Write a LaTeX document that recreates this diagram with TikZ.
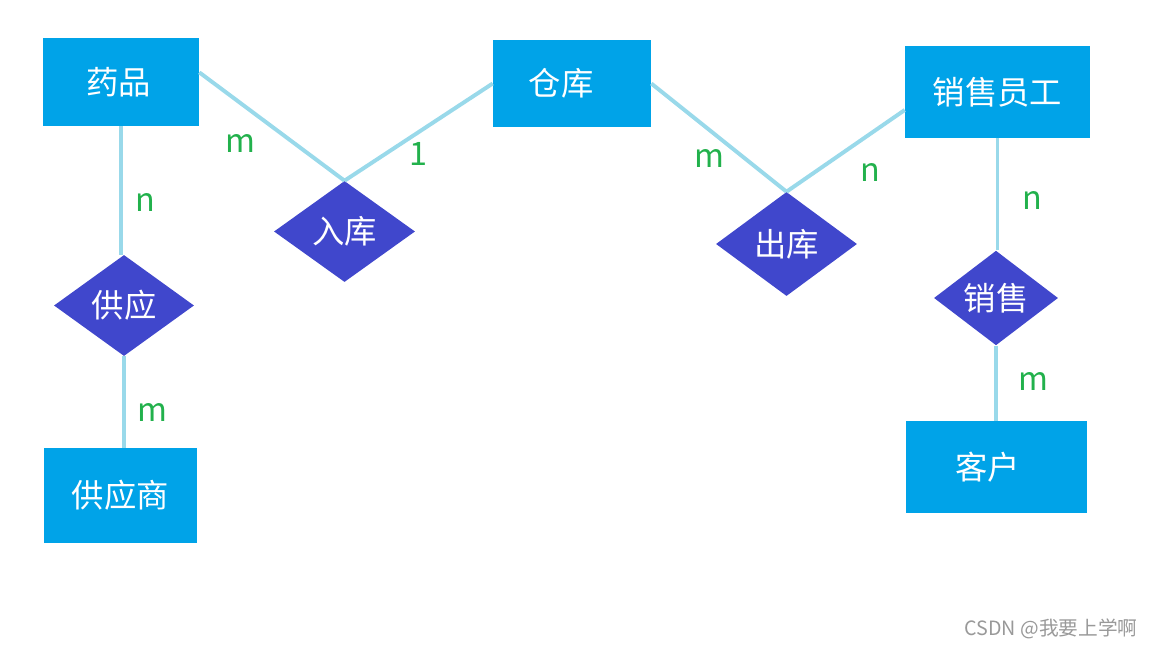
\documentclass[tikz,border=0pt]{standalone}
\usepackage{fontspec}
\setmainfont{Noto Sans CJK SC}
\usetikzlibrary{shapes.geometric}
\definecolor{entblue}{HTML}{00A3E8}
\definecolor{relblue}{HTML}{4047CC}
\definecolor{linkblue}{HTML}{99D9EA}
\definecolor{cardgreen}{HTML}{22B14C}
\tikzset{
  entity/.style={rectangle,fill=entblue,text=white,inner sep=0pt,font=\fontsize{23}{26}\selectfont},
  relation/.style={diamond,fill=relblue,text=white,inner sep=0pt,font=\fontsize{23}{26}\selectfont},
  link/.style={linkblue,line width=2.8pt},
  card/.style={text=cardgreen,font=\fontsize{23}{26}\selectfont}
}
\begin{document}
\begin{tikzpicture}[x=0.025cm,y=-0.025cm]
\useasboundingbox (0,0) rectangle (1152,648);
% entities
\node[entity,minimum width=3.9cm,minimum height=2.2cm] (yp) at (121,82) {药品\kern0.1cm};
\node[entity,minimum width=3.95cm,minimum height=2.175cm] (ck) at (572,83.5) {仓库\kern0.55cm};
\node[entity,minimum width=4.625cm,minimum height=2.3cm] (xs) at (997.5,92) {销售员工};
\node[entity,minimum width=3.825cm,minimum height=2.375cm] (gys) at (120.5,495.5) {供应商};
\node[entity,minimum width=4.525cm,minimum height=2.3cm] (kh) at (996.5,467) {客户\kern0.45cm};
% relations
\node[relation,minimum width=3.525cm,minimum height=2.525cm] (rk) at (344.5,231.5) {入库};
\node[relation,minimum width=3.525cm,minimum height=2.6cm] (chk) at (786.5,244) {出库};
\node[relation,minimum width=3.5cm,minimum height=2.525cm] (gy) at (124,305.5) {供应};
\node[relation,minimum width=3.1cm,minimum height=2.25cm] (xsr) at (996,298) {销售};
% links
\draw[link] (yp.7) -- (rk.north);
\draw[link] (ck.west) -- (rk.north);
\draw[link] (ck.east) -- (chk.north);
\draw[link] (xs.191) -- (chk.north);
\draw[link] (yp.south) -- (yp.south |- gy.north);
\draw[link] (gy.south) -- (gy.south |- gys.north);
\draw[link] (xs.south) -- (xs.south |- xsr.north);
\draw[link] (xsr.south) -- (xsr.south |- kh.north);
% cardinalities
\node[card] (c1) at (240,143) {m};
\node[card] (c2) at (418,154) {1};
\node[card] (c3) at (145,202) {n};
\node[card] (c4) at (152,412) {m};
\node[card] (c5) at (709,158) {m};
\node[card] (c6) at (870,172) {n};
\node[card] (c7) at (1032,200) {n};
\node[card] (c8) at (1033,381) {m};
% watermark
\node[text=gray!80,font=\fontsize{14}{16}\selectfont] (wm) at (1051,629) {CSDN @我要上学啊};
\end{tikzpicture}
\end{document}
